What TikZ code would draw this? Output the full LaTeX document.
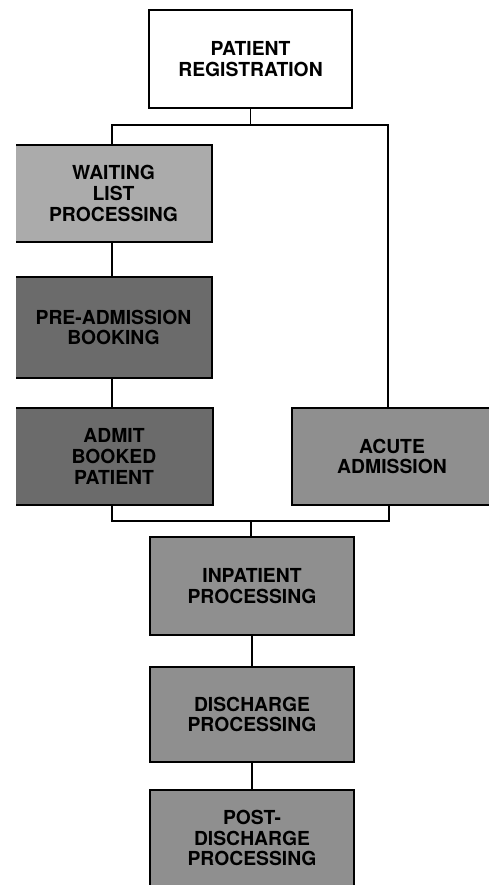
\documentclass[tikz,border=0pt]{standalone}
\usepackage{fontspec}
\setmainfont{TeX Gyre Heros}
\tikzset{
  procbox/.style={draw, line width=1.1pt, align=center, inner sep=0pt,
    font=\fontsize{11}{11.8}\selectfont\bfseries},
  link/.style={line width=0.9pt}
}
\begin{document}
\begin{tikzpicture}[x=0.02cm, y=-0.02cm]
        \useasboundingbox (0,0) rectangle (489,885);
        \clip (16.2,-5) rectangle (489,885);

        % Registration
        \node[procbox, fill=white, minimum width=4.06cm, minimum height=1.96cm] (reg) at (250.5,59) {PATIENT\\REGISTRATION};

        % Elective path
        \node[procbox, fill=black!33, minimum width=3.94cm, minimum height=1.94cm] (wait) at (113.5,193.5) {WAITING\\LIST\\PROCESSING};
        \node[procbox, fill=black!58, minimum width=3.94cm, minimum height=2.02cm] (book) at (113.5,327.5) {PRE-ADMISSION\\BOOKING};
        \node[procbox, fill=black!58, minimum width=3.96cm, minimum height=1.94cm] (admit) at (114,456.5) {ADMIT\\BOOKED\\PATIENT};

        % Acute path
        \node[procbox, fill=black!44, minimum width=4cm, minimum height=1.94cm] (acute) at (392,456.5) {ACUTE\\ADMISSION};

        % Inpatient stay and discharge
        \node[procbox, fill=black!44, minimum width=4.08cm, minimum height=1.96cm] (inp) at (252,586) {INPATIENT\\PROCESSING};
        \node[procbox, fill=black!44, minimum width=4.08cm, minimum height=1.9cm] (dis) at (252,714.5) {DISCHARGE\\PROCESSING};
        \node[procbox, fill=black!44, minimum width=4.08cm, minimum height=1.92cm] (post) at (252,838) {POST-\\DISCHARGE\\PROCESSING};

        % Split after registration
        \coordinate (split) at (250.5,125);
        \draw[link] (reg.south) -- (split);
        \draw[link] (wait.north -| 112,0) |- (split) -| ([xshift=-0.08cm]acute.north);

        % Elective chain
        \draw[link] (wait.south -| 112,0) -- (book.north -| 112,0);
        \draw[link] (book.south -| 112,0) -- (admit.north -| 112,0);

        % Join before inpatient
        \coordinate (join) at (251,521);
        \draw[link] (admit.south -| 112,0) |- (join) -| ([xshift=-0.06cm]acute.south);
        \draw[link] (join) -- (join |- inp.north);

        % Discharge chain
        \draw[link] (inp) -- (dis);
        \draw[link] (dis) -- (post);
\end{tikzpicture}
\end{document}
